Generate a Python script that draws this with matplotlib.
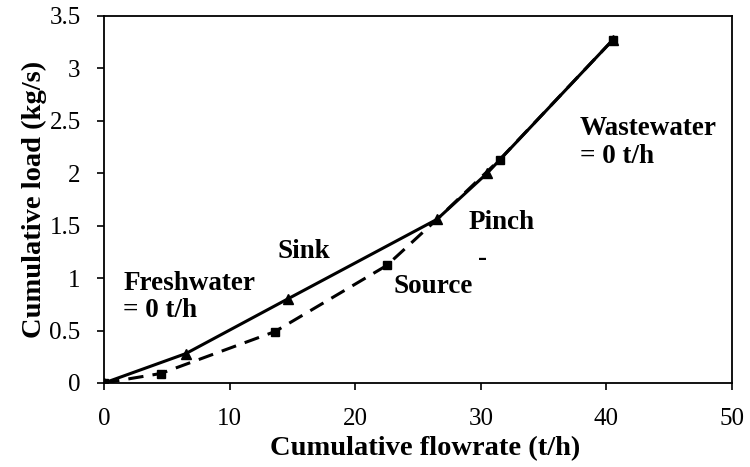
import matplotlib.pyplot as plt

plt.rcParams['font.family'] = ['Liberation Serif', 'DejaVu Serif']

# Sink composite curve (solid, triangles)
sink_flow = [0, 6.5, 14.6, 26.5, 30.5, 40.5]
sink_load = [0, 0.28, 0.8, 1.56, 2.0, 3.27]

# Source composite curve (dashed, squares)
source_flow = [0, 4.5, 13.6, 22.5, 26.5, 31.5, 40.5]
source_load = [0, 0.09, 0.49, 1.12, 1.56, 2.13, 3.27]

fig, ax = plt.subplots(figsize=(7.5, 4.67), dpi=100)
fig.subplots_adjust(left=0.139, right=0.976, bottom=0.18, top=0.966)

ax.plot(source_flow, source_load, color='black', linestyle=(0, (5, 3)), lw=2.2,
        marker='s', markersize=6, markevery=[0, 1, 2, 3, 5, 6])
ax.plot(sink_flow, sink_load, color='black', linestyle='-', lw=2.2,
        marker='^', markersize=7)

ax.set_xlim(0, 50)
ax.set_ylim(0, 3.5)
ax.set_xticks([0, 10, 20, 30, 40, 50])
ax.set_yticks([0, 0.5, 1, 1.5, 2, 2.5, 3, 3.5])
ax.set_yticklabels(['0', '0.5', '1', '1.5', '2', '2.5', '3', '3.5'])
ax.tick_params(labelsize=18, direction='out', length=5, width=1.2)
ax.tick_params(axis='x', pad=13)
ax.tick_params(axis='y', pad=12)
for s in ax.spines.values():
    s.set_linewidth(1.3)

ax.set_xlabel('Cumulative flowrate (t/h)', fontsize=20.5, fontweight='bold')
ax.set_ylabel('Cumulative load (kg/s)', fontsize=20.5, fontweight='bold', labelpad=2)
ax.xaxis.set_label_coords(0.511, -0.145)

bold = dict(fontsize=19.5, fontweight='bold')
ax.text(1.5, 0.82, 'Freshwater\n= 0 t/h', ha='left', va='center', linespacing=1.15, **bold)
ax.text(13.8, 1.25, 'Sink', ha='left', va='center', **bold)
ax.text(23.0, 0.915, 'Source', ha='left', va='center', **bold)
ax.text(29.0, 1.53, 'Pinch', ha='left', va='center', **bold)
ax.text(30.1, 1.19, '-', ha='center', va='center', **bold)
ax.text(37.9, 2.29, 'Wastewater\n= 0 t/h', ha='left', va='center', linespacing=1.15, **bold)

fig.savefig('out.png', dpi=100)
